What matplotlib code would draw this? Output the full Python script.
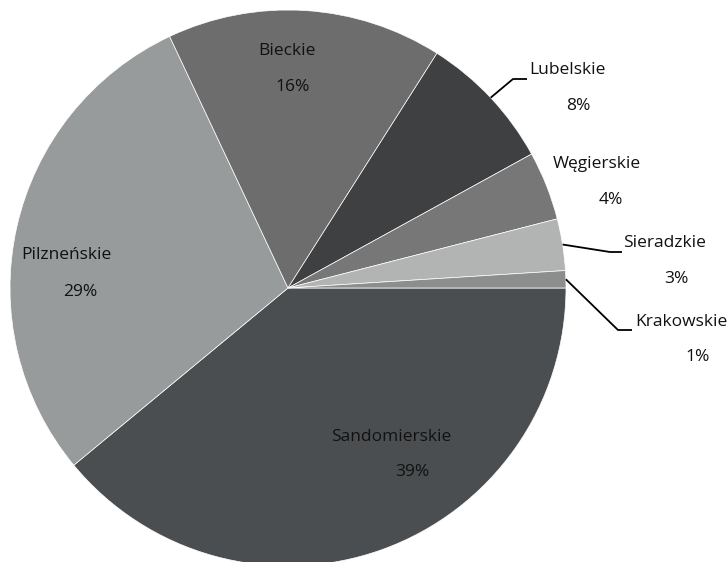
import numpy as np
import matplotlib.pyplot as plt

# regions, clockwise from 3 o'clock
regions = ["Sandomierskie", "Pilzneńskie", "Bieckie", "Lubelskie",
           "Węgierskie", "Sieradzkie", "Krakowskie"]
shares = [39, 29, 16, 8, 4, 3, 1]
colors = ["#4b4e51", "#989b9b", "#6d6d6d", "#3e4041",
          "#777777", "#b2b4b4", "#8c8e8e"]

W, H = 727, 562
fig = plt.figure(figsize=(W / 100, H / 100), dpi=100)
ax = fig.add_axes([0, 0, 1, 1])

cx, cy, r = 288, H - 288, 278
wedges, _ = ax.pie(shares, colors=colors, startangle=0, counterclock=False,
                   center=(cx, cy), radius=r, frame=True,
                   wedgeprops=dict(edgecolor="white", linewidth=0.5))
ax.set_xlim(0, W)
ax.set_ylim(0, H)
ax.set_aspect("equal")
ax.axis("off")

font = dict(family=["Open Sans", "DejaVu Sans"], fontsize=12.5, color="#111111",
            ha="center", va="center")

# (name x, name y, pct x, pct y) in pixels from the top-left
label_pos = {
    "Sandomierskie": (391, 437, 412, 472),
    "Pilzneńskie": (66, 255, 80, 292),
    "Bieckie": (287, 51, 293, 87),
    "Lubelskie": (567, 70, 578, 106),
    "Węgierskie": (597, 164, 611, 200),
    "Sieradzkie": (664, 243, 676, 279),
    "Krakowskie": (681, 322, 698, 357),
}
# leader lines: (elbow x, elbow y, end x) for the small outside slices
leaders = {
    "Lubelskie": (513, 79, 527),
    "Sieradzkie": (610, 252, 622),
    "Krakowskie": (618, 330, 632),
}

for w, name, s in zip(wedges, regions, shares):
    nx, ny, px, py = label_pos[name]
    ax.text(nx, H - ny, name, **font)
    ax.text(px, H - py, f"{s}%", **font)
    if name in leaders:
        ex, ey, tx = leaders[name]
        ang = np.deg2rad((w.theta1 + w.theta2) / 2)
        sx, sy = cx + r * np.cos(ang), cy + r * np.sin(ang)
        ax.plot([sx, ex, tx], [sy, H - ey, H - ey], color="black", lw=1.3,
                solid_capstyle="butt")

fig.savefig("out.png", dpi=100, facecolor="white")
